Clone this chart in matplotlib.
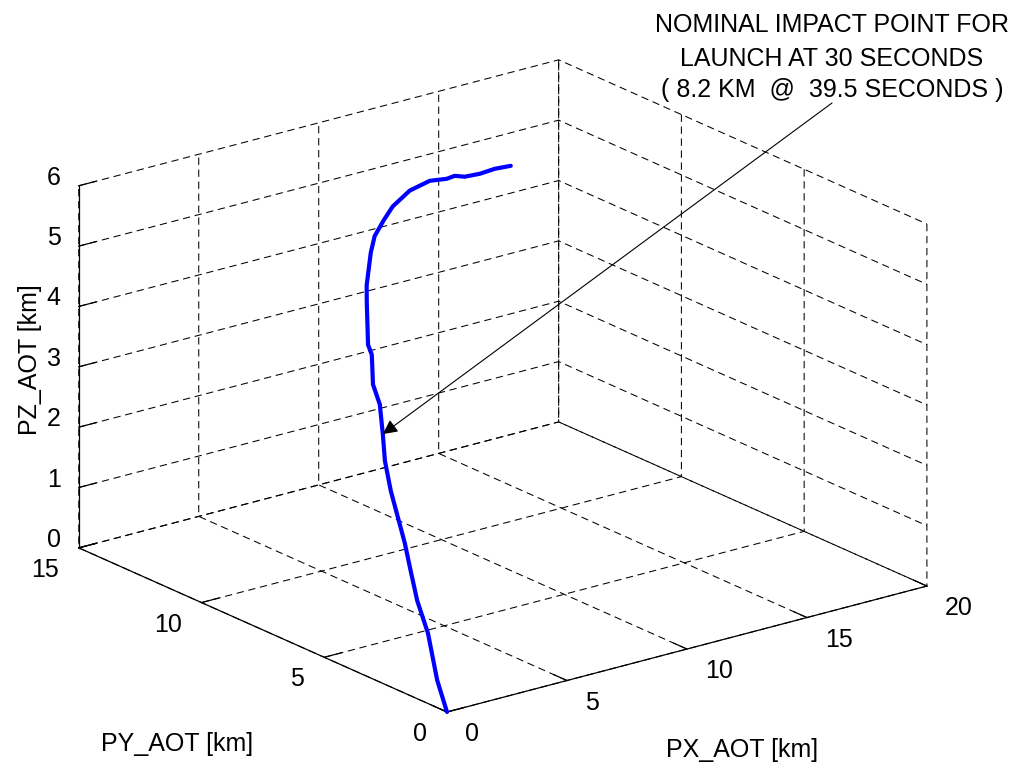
import numpy as np
import matplotlib
matplotlib.use('Agg')
import matplotlib.pyplot as plt
from mpl_toolkits.mplot3d import proj3d

plt.rcParams['font.family'] = ['Liberation Sans', 'DejaVu Sans']

# ---- data (km) ----
px_aot = [0.00, 0.02, 0.23, 0.28, 0.43, 0.64, 0.74, 0.89, 1.25, 1.53, 2.14, 2.42, 3.25, 3.38,
          4.79, 5.42, 6.91, 7.82, 8.81, 9.79, 11.06, 12.16, 12.73, 13.11, 13.32, 13.89, 14.57, 15.17]
py_aot = [0.00, 0.42, 1.00, 1.49, 1.93, 2.34, 2.72, 3.16, 3.75, 4.11, 4.83, 5.38, 6.24, 6.52,
          7.95, 8.57, 9.86, 10.59, 11.19, 11.78, 12.33, 12.59, 12.45, 12.50, 12.30, 12.24, 12.30, 12.23]
pz_aot = [0.00, 0.45, 1.10, 1.55, 2.00, 2.30, 2.65, 3.00, 3.35, 3.70, 4.00, 4.20, 4.45, 4.55,
          4.85, 4.95, 5.10, 5.15, 5.20, 5.22, 5.25, 5.25, 5.25, 5.25, 5.25, 5.25, 5.25, 5.25]
impact_index = 9

x_ticks = [0, 5, 10, 15, 20]
y_ticks = [0, 5, 10, 15]
z_ticks = [0, 1, 2, 3, 4, 5, 6]
x_label = 'PX_AOT [km]'
y_label = 'PY_AOT [km]'
z_label = 'PZ_AOT [km]'
note_lines = ['NOMINAL IMPACT POINT FOR', 'LAUNCH AT 30 SECONDS', '( 8.2 KM  @  39.5 SECONDS )']

# ---- layout ----
W, H = 1022, 772
FS = 18
fig = plt.figure(figsize=(W / 100, H / 100), dpi=100)
fig.patch.set_facecolor('white')
ax = fig.add_axes([0, 0, 1, 1], projection='3d')
ax.set_proj_type('ortho')
ax.view_init(elev=20, azim=-127.5)
aspect = (1, 1, 0.637)
zoom = 1.0
ax.set_box_aspect(aspect, zoom=zoom)
ax.set_xlim(x_ticks[0], x_ticks[-1])
ax.set_ylim(y_ticks[0], y_ticks[-1])
ax.set_zlim(z_ticks[0], z_ticks[-1])
ax.set_xticks(x_ticks)
ax.set_yticks(y_ticks)
ax.set_zticks(z_ticks)
ax.set_xticklabels([])
ax.set_yticklabels([])
ax.set_zticklabels([])

for axis in (ax.xaxis, ax.yaxis, ax.zaxis):
    axis.set_pane_color((1, 1, 1, 0))
    axis.pane.set_edgecolor((1, 1, 1, 0))
    axis._axinfo['grid'].update(color='black', linewidth=0.75, linestyle=(0, (7, 4.5)))
    axis.line.set_color('black')
    axis.line.set_linewidth(0.9)
    axis._axinfo['tick']['inward_factor'] = 0.0
    axis._axinfo['tick']['outward_factor'] = 0.45
    axis._axinfo['tick']['linewidth'] = {True: 0.9, False: 0.5}

ax.plot(px_aot, py_aot, pz_aot, color=(0, 0, 1), lw=3.0,
        solid_joinstyle='round', solid_capstyle='round')


def to_px(x, y, z):
    X, Y, _ = proj3d.proj_transform(x, y, z, ax.get_proj())
    return np.array(ax.transData.transform((X, Y)))


# fit the box to the reference frame
t_origin = np.array([447, H - 712])
t_span = 849.0
fig.canvas.draw()
d = np.linalg.norm(to_px(x_ticks[-1], 0, 0) - to_px(0, y_ticks[-1], 0))
zoom *= t_span / d
ax.set_box_aspect(aspect, zoom=zoom)
fig.canvas.draw()
o = to_px(0, 0, 0)
dx, dy = (t_origin - o) / np.array([W, H])
ax.set_position([dx, dy, 1, 1])
fig.canvas.draw()

# tick labels, placed beside the projected tick positions
for v in x_ticks:
    p = to_px(v, 0, 0)
    fig.text((p[0] + 18) / W, (p[1] - 22) / H, str(v), ha='left', va='center', fontsize=FS)
for v in y_ticks:
    p = to_px(0, v, 0)
    fig.text((p[0] - 20) / W, (p[1] - 22) / H, str(v), ha='right', va='center', fontsize=FS)
for v in z_ticks:
    p = to_px(0, y_ticks[-1], v)
    fig.text((p[0] - 18) / W, (p[1] + 8) / H, str(v), ha='right', va='center', fontsize=FS)

# annotation
tip = to_px(px_aot[impact_index], py_aot[impact_index], pz_aot[impact_index])
ax.annotate('', xy=tip, xycoords='figure pixels', xytext=(832, H - 103),
            textcoords='figure pixels',
            arrowprops=dict(arrowstyle='-|>', color='black', lw=0.8,
                            mutation_scale=22, shrinkA=0, shrinkB=0))
for line, base in zip(note_lines, [32.5, 65.5, 97.5]):
    fig.text(832 / W, 1 - base / H, line, ha='center', va='baseline', fontsize=FS)

fig.text(30 / W, 1 - 360 / H, z_label, rotation=90, ha='center', va='center', fontsize=FS)
fig.text(177 / W, 1 - 744 / H, y_label, ha='center', va='center', fontsize=FS)
fig.text(742 / W, 1 - 750 / H, x_label, ha='center', va='center', fontsize=FS)

fig.savefig('out.png', dpi=100, facecolor='white')
